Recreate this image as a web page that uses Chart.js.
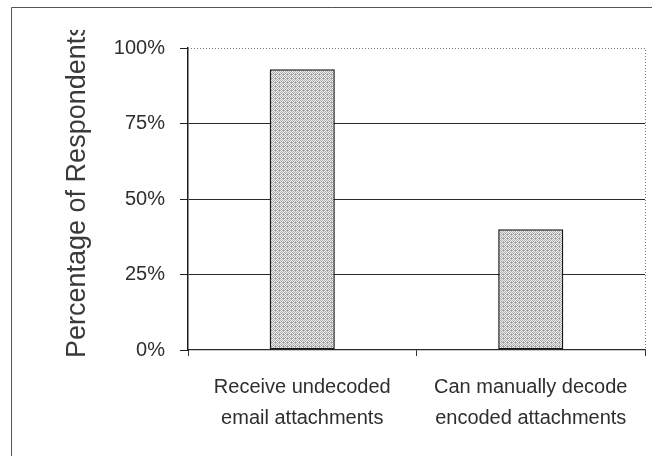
<!DOCTYPE html>
<html>
<head>
<meta charset="utf-8">
<style>
  html, body { margin: 0; padding: 0; background: #ffffff; }
  #wrap { width: 652px; height: 456px; position: relative; }
</style>
<script src="https://cdn.jsdelivr.net/npm/chart.js@4/dist/chart.umd.min.js"></script>
</head>
<body>
<div id="wrap"><canvas id="c" width="652" height="456"></canvas></div>
<script>
// Survey results: share of respondents for each attachment situation
const categories = [
  ['Receive undecoded', 'email attachments'],
  ['Can manually decode', 'encoded attachments']
];
const respondentShare = [93, 40];
const yTicks = [0, 25, 50, 75, 100];
const yTitle = 'Percentage of Respondents';

// Halftone-style grey fill for the bars
function stipple() {
  const p = document.createElement('canvas');
  p.width = 4; p.height = 4;
  const g = p.getContext('2d');
  g.fillStyle = '#ececec';
  g.fillRect(0, 0, 4, 4);
  g.fillStyle = '#b0b0b0';
  const dots = [[0,0],[2,0],[1,1],[3,1],[0,2],[2,2],[1,3],[3,3]];
  dots.forEach(([x, y]) => g.fillRect(x, y, 1, 1));
  g.fillStyle = '#969696';
  g.fillRect(1, 1, 1, 1);
  g.fillRect(3, 2, 1, 1);
  return g.createPattern(p, 'repeat');
}

const ctx = document.getElementById('c').getContext('2d');
const FONT = '"Liberation Sans", Arial, sans-serif';
const INK = '#2e2e2e';

// Dotted top/right frame of the plot area, the outer chart border and the clipped axis title
const framePlugin = {
  id: 'frame',
  afterDraw(chart) {
    const { ctx: g, chartArea: a } = chart;
    g.save();
    g.strokeStyle = '#777777';
    g.lineWidth = 1;
    g.setLineDash([1, 2]);
    g.beginPath();
    g.moveTo(a.left, a.top + 0.5);
    g.lineTo(a.right + 0.5, a.top + 0.5);
    g.lineTo(a.right + 0.5, a.bottom);
    g.stroke();
    g.setLineDash([]);

    // outer border of the chart object (runs off the right and bottom)
    g.strokeStyle = '#555555';
    g.beginPath();
    g.moveTo(11.5, chart.height);
    g.lineTo(11.5, 7.5);
    g.lineTo(chart.width, 7.5);
    g.stroke();

    // vertical axis title, clipped by the chart's top region
    g.beginPath();
    g.rect(0, 30, chart.width, chart.height - 30);
    g.clip();
    g.translate(85, 358);
    g.rotate(-Math.PI / 2);
    g.font = '27px ' + FONT;
    g.fillStyle = '#3a3a3a';
    g.textAlign = 'left';
    g.textBaseline = 'alphabetic';
    g.fillText(yTitle, 0, 0);
    g.restore();
  }
};

new Chart(ctx, {
  type: 'bar',
  data: {
    labels: categories,
    datasets: [{
      data: respondentShare,
      backgroundColor: stipple(),
      borderColor: '#1a1a1a',
      borderWidth: 1.5,
      borderSkipped: false,
      categoryPercentage: 1,
      barPercentage: 0.285
    }]
  },
  options: {
    responsive: false,
    animation: false,
    devicePixelRatio: 1,
    layout: { padding: { left: 0, top: 48, right: 7, bottom: 0 } },
    plugins: {
      legend: { display: false },
      tooltip: { enabled: false }
    },
    scales: {
      x: {
        grid: {
          offset: true,
          drawOnChartArea: false,
          drawTicks: true,
          tickLength: 6,
          tickColor: '#333333',
          tickWidth: 1
        },
        border: { display: true, color: '#2a2a2a', width: 1.2 },
        ticks: {
          color: INK,
          padding: 16,
          maxRotation: 0,
          autoSkip: false,
          font: { family: FONT, size: 20, lineHeight: 1.55 }
        },
        afterFit(scale) { scale.height = 106; }
      },
      y: {
        min: 0,
        max: 100,
        afterBuildTicks(scale) { scale.ticks = yTicks.map(v => ({ value: v })); },
        grid: {
          color: c => (c.tick && (c.tick.value === 0 || c.tick.value === 100)) ? 'rgba(0,0,0,0)' : '#2a2a2a',
          lineWidth: 1,
          drawTicks: true,
          tickLength: 8,
          tickColor: '#222222',
          tickWidth: 1
        },
        border: { display: true, color: '#1a1a1a', width: 1.5 },
        ticks: {
          color: INK,
          padding: 15,
          font: { family: FONT, size: 20 },
          callback: v => v + '%'
        },
        afterFit(scale) { scale.width = 188; }
      }
    }
  },
  plugins: [framePlugin]
});
</script>
</body>
</html>
